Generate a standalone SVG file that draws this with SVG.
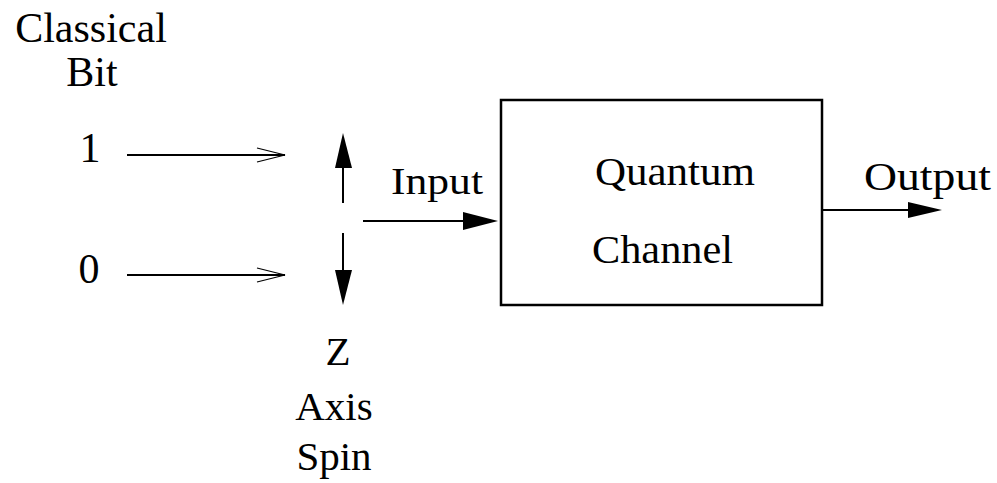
<svg xmlns="http://www.w3.org/2000/svg" width="997" height="483" viewBox="0 0 997 483">
<style>
text{font-family:"Liberation Serif","Times New Roman",serif;fill:#000}
.ln{stroke:#000;stroke-width:2;fill:none}
.open{stroke:#000;stroke-width:1.2;fill:none}
.head{fill:#000;stroke:none}
</style>
<rect width="997" height="483" fill="#fff"/>
<g id="labels">
<text x="91" y="42" font-size="42" text-anchor="middle">Classical</text>
<text x="92" y="86" font-size="42" text-anchor="middle">Bit</text>
</g>
<g id="bit1"><text x="90" y="162" font-size="42" text-anchor="middle">1</text></g>
<g id="bit0"><text x="89" y="283" font-size="42" text-anchor="middle">0</text></g>
<g id="zaxis">
<text x="338" y="365" font-size="41" text-anchor="middle">Z</text>
<text x="334" y="420" font-size="41" text-anchor="middle">Axis</text>
<text x="334" y="470" font-size="41" text-anchor="middle">Spin</text>
</g>
<g id="channel">
<rect x="501" y="100" width="321" height="205" fill="none" stroke="#000" stroke-width="2.5"/>
<text x="595" y="185" font-size="40" textLength="160" lengthAdjust="spacingAndGlyphs">Quantum</text>
<text x="592" y="263" font-size="40" textLength="141" lengthAdjust="spacingAndGlyphs">Channel</text>
</g>
<g id="connectors">
<line class="ln" x1="127" y1="155" x2="285" y2="155"/>
<polyline class="open" points="257,148 285,155 257,162"/>
<line class="ln" x1="127" y1="275" x2="285" y2="275"/>
<polyline class="open" points="257,268 285,275 257,282"/>
<line class="ln" x1="343" y1="203" x2="343" y2="165"/>
<polygon class="head" points="343,133 335,168 352,168"/>
<line class="ln" x1="343" y1="233" x2="343" y2="272"/>
<polygon class="head" points="343,305 335,270 352,270"/>
<line class="ln" x1="363" y1="221" x2="465" y2="221"/>
<polygon class="head" points="498,221 463,212 463,230"/>
<line class="ln" x1="822" y1="210" x2="910" y2="210"/>
<polygon class="head" points="942,210 908,202 908,218"/>
</g>
<g id="io">
<text x="391" y="194" font-size="38" textLength="92" lengthAdjust="spacingAndGlyphs">Input</text>
<text x="864" y="190" font-size="39" textLength="127" lengthAdjust="spacingAndGlyphs">Output</text>
</g>
</svg>
